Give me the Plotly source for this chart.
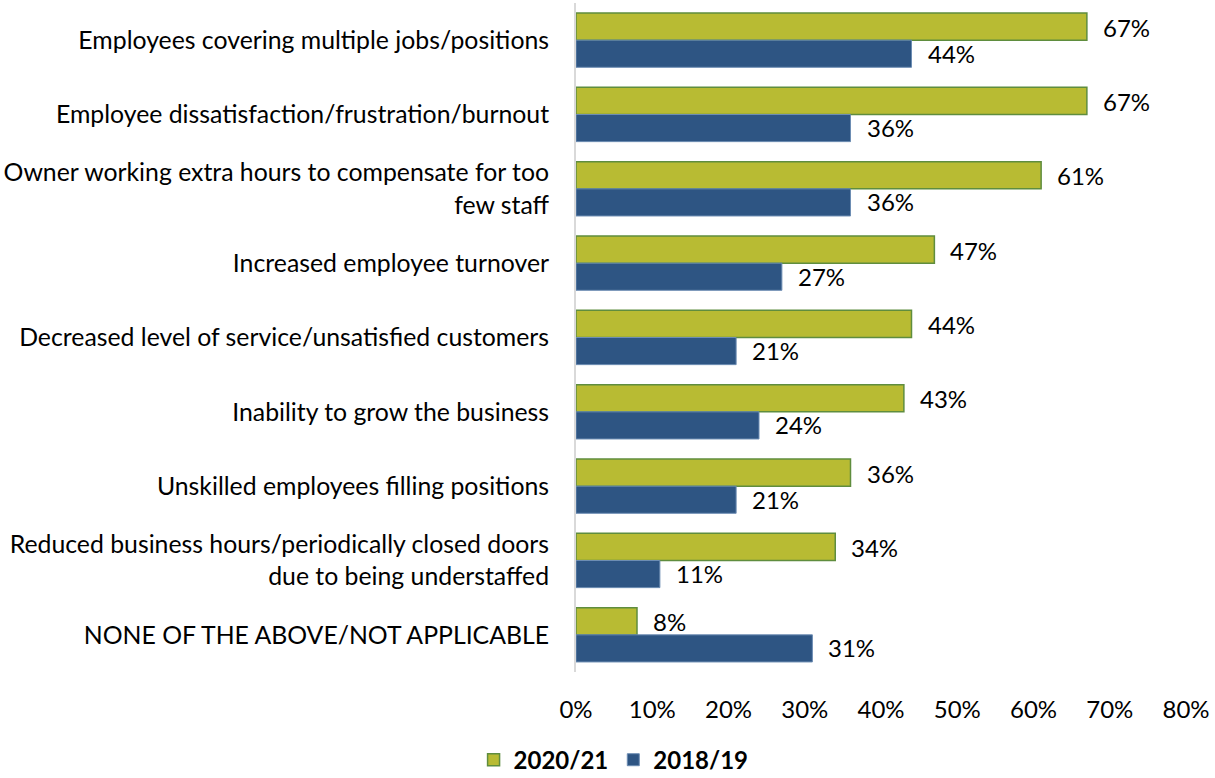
import plotly.graph_objects as go

categories = [
    "Employees covering multiple jobs/positions",
    "Employee dissatisfaction/frustration/burnout",
    "Owner working extra hours to compensate for too<br>few staff",
    "Increased employee turnover",
    "Decreased level of service/unsatisfied customers",
    "Inability to grow the business",
    "Unskilled employees filling positions",
    "Reduced business hours/periodically closed doors<br>due to being understaffed",
    "NONE OF THE ABOVE/NOT APPLICABLE",
]
values_2021 = [67, 67, 61, 47, 44, 43, 36, 34, 8]
values_2019 = [44, 36, 36, 27, 21, 24, 21, 11, 31]
x_ticks = [0, 10, 20, 30, 40, 50, 60, 70, 80]
x_tick_labels = [f"{t}%" for t in x_ticks]

FONT = "Lato"
FS = 24
GREEN = "#b8bb33"
GREEN_LINE = "#5f8d3e"
BLUE = "#2e5583"
BLUE_LINE = "#6d8db3"

fig = go.Figure()
fig.add_trace(go.Bar(
    name="2020/21", y=categories, x=values_2021, orientation="h",
    marker=dict(color=GREEN, line=dict(color=GREEN_LINE, width=1.5)),
))
fig.add_trace(go.Bar(
    name="2018/19", y=categories, x=values_2019, orientation="h",
    marker=dict(color=BLUE, line=dict(color=BLUE_LINE, width=1)),
))

# value labels just right of each bar
for cat, v in zip(categories, values_2021):
    fig.add_annotation(x=v, y=cat, text=f"{v}%", showarrow=False,
                       xanchor="left", xshift=14, yshift=13,
                       font=dict(family=FONT, size=FS, color="#000"))
for cat, v in zip(categories, values_2019):
    fig.add_annotation(x=v, y=cat, text=f"{v}%", showarrow=False,
                       xanchor="left", xshift=14, yshift=-13,
                       font=dict(family=FONT, size=FS, color="#000"))

fig.update_layout(
    width=1215, height=778,
    margin=dict(l=576, r=29, t=3, b=106),
    paper_bgcolor="white", plot_bgcolor="white",
    barmode="group", bargap=0.27, bargroupgap=0,
    font=dict(family=FONT, size=FS, color="#000"),
    showlegend=True,
    legend=dict(orientation="h", xref="container", yref="container",
                x=0.505, xanchor="center", y=0.023, yanchor="middle",
                font=dict(family=FONT, size=FS, color="#000", weight="bold"),
                itemwidth=30, traceorder="normal"),
)
fig.update_xaxes(range=[0, 80], tickvals=x_ticks, ticktext=x_tick_labels,
                 showgrid=False, zeroline=False, showline=False,
                 ticklabelstandoff=21, tickfont=dict(size=FS))
fig.update_yaxes(autorange="reversed", showgrid=False, zeroline=False,
                 showline=True, linecolor="#d9d9d9", linewidth=2,
                 ticklabelstandoff=20, tickfont=dict(size=24.8))

fig.write_html("out.html")
